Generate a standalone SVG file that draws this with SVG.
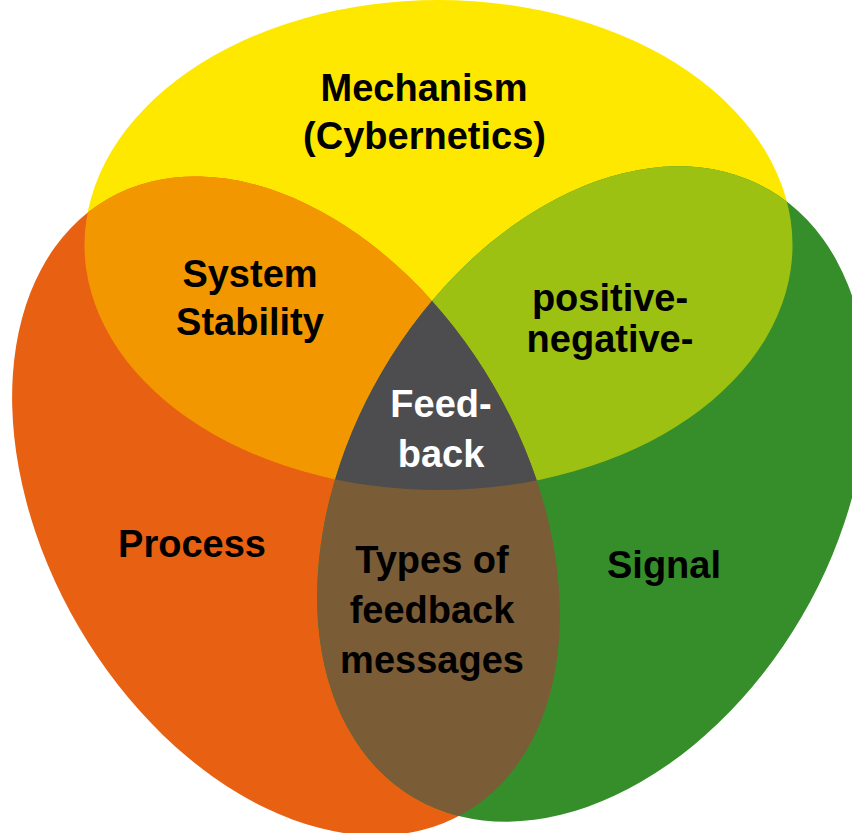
<svg xmlns="http://www.w3.org/2000/svg" xmlns:xlink="http://www.w3.org/1999/xlink" width="852" height="833" viewBox="0 0 852 833">
  <style>
    .lbl { font-family: "Liberation Sans", Arial, Helvetica, sans-serif; font-weight: bold; font-size: 38px; fill: #000; text-anchor: middle; }
    .wht { fill: #fff; }
  </style>
  <defs>
    <ellipse id="shY" cx="438.5" cy="245" rx="354" ry="245"/>
    <ellipse id="shO" cx="0" cy="0" rx="355" ry="240" transform="translate(286,506) rotate(59.7)"/>
    <ellipse id="shG" cx="0" cy="0" rx="352" ry="243" transform="translate(592,494) rotate(-59.7)"/>
    <clipPath id="cY"><use xlink:href="#shY"/></clipPath>
    <clipPath id="cO"><use xlink:href="#shO"/></clipPath>
  </defs>
  <rect width="852" height="833" fill="#fff"/>

  <g id="mechanism">
    <use xlink:href="#shY" fill="#FEE800"/>
  </g>
  <g id="process">
    <use xlink:href="#shO" fill="#E86113"/>
  </g>
  <g id="signal">
    <use xlink:href="#shG" fill="#368E2B"/>
  </g>
  <g id="system-stability">
    <g clip-path="url(#cY)"><use xlink:href="#shO" fill="#F39700"/></g>
  </g>
  <g id="positive-negative">
    <g clip-path="url(#cY)"><use xlink:href="#shG" fill="#9DC113"/></g>
  </g>
  <g id="types-of-feedback">
    <g clip-path="url(#cO)"><use xlink:href="#shG" fill="#7A5C37"/></g>
  </g>
  <g id="feedback">
    <g clip-path="url(#cY)"><g clip-path="url(#cO)"><use xlink:href="#shG" fill="#4D4D4F"/></g></g>
  </g>

  <g id="labels">
    <text class="lbl" x="424" y="101">Mechanism</text>
    <text class="lbl" x="424.5" y="149">(Cybernetics)</text>
    <text class="lbl" x="250" y="287">System</text>
    <text class="lbl" x="250" y="335">Stability</text>
    <text class="lbl" x="610" y="311">positive-</text>
    <text class="lbl" x="610" y="352">negative-</text>
    <text class="lbl wht" x="441" y="417">Feed-</text>
    <text class="lbl wht" x="441" y="467">back</text>
    <text class="lbl" x="192" y="557">Process</text>
    <text class="lbl" x="664" y="578">Signal</text>
    <text class="lbl" x="432" y="573">Types of</text>
    <text class="lbl" x="432" y="623">feedback</text>
    <text class="lbl" x="432" y="673">messages</text>
  </g>
</svg>
